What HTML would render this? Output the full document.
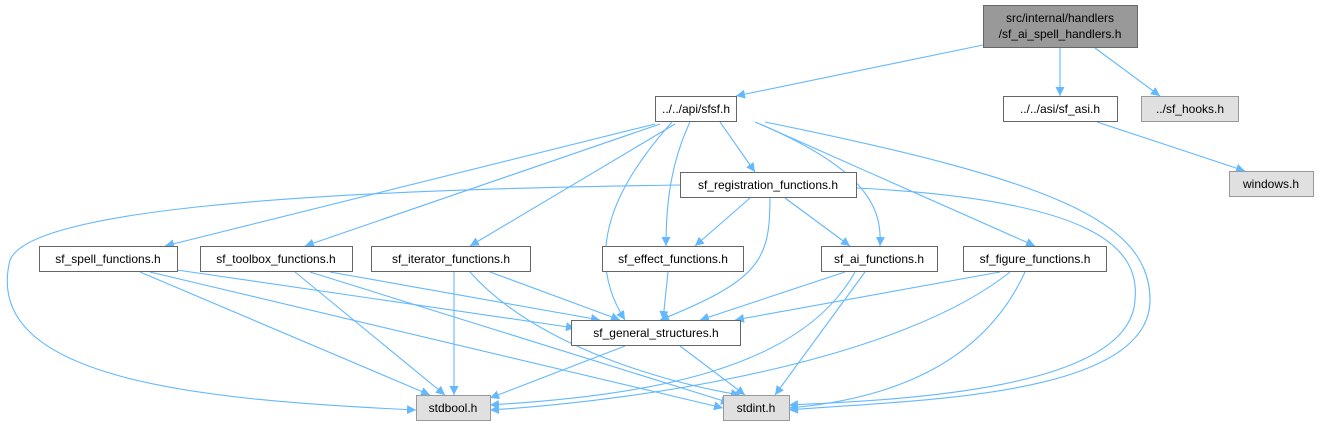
<!DOCTYPE html>
<html><head><meta charset="utf-8"><style>
html,body{margin:0;padding:0;background:#fff}
svg text{font-family:"Liberation Sans",sans-serif;font-size:12px;fill:#000}
</style></head><body>
<svg width="1320" height="427" viewBox="0 0 1320 427" xmlns="http://www.w3.org/2000/svg">
<defs><marker id="a" viewBox="0 0 10 10" refX="10" refY="5" markerWidth="9" markerHeight="9" markerUnits="userSpaceOnUse" orient="auto"><path d="M0,0L10,5L0,10z" fill="#63b8ff"/></marker></defs>
<g fill="none" stroke="#63b8ff" stroke-width="1.1" marker-end="url(#a)">
<path d="M983,45L736,96"/>
<path d="M1060,48L1060,96"/>
<path d="M1095,48L1160,96"/>
<path d="M1097,122L1245,171"/>
<path d="M720,122L755,172"/>
<path d="M655,124L165,246"/>
<path d="M660,124L305,246"/>
<path d="M675,124L470,246"/>
<path d="M690,122C672,160 666,200 666,246"/>
<path d="M672,122C620,180 580,250 625,320"/>
<path d="M755,122C870,170 882,210 880,246"/>
<path d="M760,124L1035,246"/>
<path d="M765,122C1050,180 1150,220 1150,300C1150,400 900,400 789,410"/>
<path d="M680,185C300,190 30,210 10,260C-20,380 200,400 416,410"/>
<path d="M856,188C1100,200 1140,250 1135,300C1130,390 900,400 789,405"/>
<path d="M750,198L695,246"/>
<path d="M785,198L850,246"/>
<path d="M770,198C770,260 760,280 660,320"/>
<path d="M177,270L575,328"/>
<path d="M140,272L430,395"/>
<path d="M150,272L723,408"/>
<path d="M295,272L445,395"/>
<path d="M310,272L730,403"/>
<path d="M330,272L600,320"/>
<path d="M454,272L454,395"/>
<path d="M470,272C530,340 650,380 740,395"/>
<path d="M490,272L620,320"/>
<path d="M668,272L663,320"/>
<path d="M845,272L700,320"/>
<path d="M855,272C800,370 650,395 490,405"/>
<path d="M865,272L775,395"/>
<path d="M1000,272L735,320"/>
<path d="M1010,272C900,360 650,400 490,410"/>
<path d="M1025,272C980,370 880,400 789,408"/>
<path d="M625,346L490,398"/>
<path d="M680,346L745,395"/>
</g>
<g stroke-width="1">
<rect x="983.5" y="5.5" width="154" height="42" fill="#999" stroke="#666"/>
<rect x="655.5" y="96.5" width="81" height="25" fill="#fff" stroke="#666"/>
<rect x="1003.5" y="96.5" width="114" height="25" fill="#fff" stroke="#666"/>
<rect x="1141.5" y="96.5" width="97" height="25" fill="#e0e0e0" stroke="#999"/>
<rect x="1229.5" y="171.5" width="84" height="25" fill="#e0e0e0" stroke="#999"/>
<rect x="680.5" y="172.5" width="176" height="25" fill="#fff" stroke="#666"/>
<rect x="39.5" y="246.5" width="138" height="25" fill="#fff" stroke="#666"/>
<rect x="200.5" y="246.5" width="152" height="25" fill="#fff" stroke="#666"/>
<rect x="371.5" y="246.5" width="159" height="25" fill="#fff" stroke="#666"/>
<rect x="602.5" y="246.5" width="141" height="25" fill="#fff" stroke="#666"/>
<rect x="821.5" y="246.5" width="116" height="25" fill="#fff" stroke="#666"/>
<rect x="963.5" y="246.5" width="143" height="25" fill="#fff" stroke="#666"/>
<rect x="571.5" y="320.5" width="169" height="25" fill="#fff" stroke="#666"/>
<rect x="416.5" y="395.5" width="74" height="25" fill="#e0e0e0" stroke="#999"/>
<rect x="723.5" y="395.5" width="66" height="25" fill="#e0e0e0" stroke="#999"/>
</g>
<g text-anchor="middle">
<text x="1060" y="22">src/internal/handlers</text>
<text x="1060" y="38">/sf_ai_spell_handlers.h</text>
<text x="696" y="113">../../api/sfsf.h</text>
<text x="1060" y="113">../../asi/sf_asi.h</text>
<text x="1190" y="113">../sf_hooks.h</text>
<text x="1271" y="188">windows.h</text>
<text x="768" y="189">sf_registration_functions.h</text>
<text x="108" y="263">sf_spell_functions.h</text>
<text x="276" y="263">sf_toolbox_functions.h</text>
<text x="451" y="263">sf_iterator_functions.h</text>
<text x="673" y="263">sf_effect_functions.h</text>
<text x="879" y="263">sf_ai_functions.h</text>
<text x="1035" y="263">sf_figure_functions.h</text>
<text x="656" y="337">sf_general_structures.h</text>
<text x="453" y="412">stdbool.h</text>
<text x="756" y="412">stdint.h</text>
</g>
</svg>
</body></html>
